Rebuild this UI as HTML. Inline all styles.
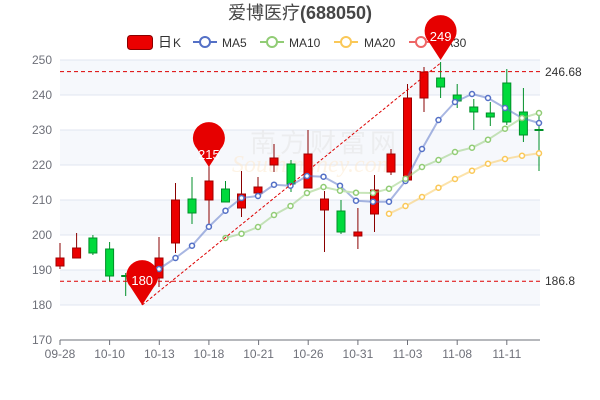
<!DOCTYPE html>
<html><head><meta charset="utf-8"><style>
body{margin:0;background:#fff}
svg{display:block;font-family:"Liberation Sans","Noto Sans CJK SC",sans-serif}
</style></head><body>
<svg width="600" height="400" viewBox="0 0 600 400">
<g fill="#f6f8fc">
<rect x="60" y="60" width="480" height="35"/><rect x="60" y="130" width="480" height="35"/>
<rect x="60" y="200" width="480" height="35"/><rect x="60" y="270" width="480" height="35"/>
</g>
<g stroke="#e0e6f1" stroke-width="1">
<line x1="60" y1="60" x2="540" y2="60"/><line x1="60" y1="95" x2="540" y2="95"/>
<line x1="60" y1="130" x2="540" y2="130"/><line x1="60" y1="165" x2="540" y2="165"/>
<line x1="60" y1="200" x2="540" y2="200"/><line x1="60" y1="235" x2="540" y2="235"/>
<line x1="60" y1="270" x2="540" y2="270"/><line x1="60" y1="305" x2="540" y2="305"/>
</g>
<line x1="60" y1="340" x2="540" y2="340" stroke="#6e7079"/>
<g stroke="#6e7079"><line x1="60" y1="340" x2="60" y2="345"/><line x1="109.6" y1="340" x2="109.6" y2="345"/><line x1="159.3" y1="340" x2="159.3" y2="345"/><line x1="208.9" y1="340" x2="208.9" y2="345"/><line x1="258.6" y1="340" x2="258.6" y2="345"/><line x1="308.2" y1="340" x2="308.2" y2="345"/><line x1="357.9" y1="340" x2="357.9" y2="345"/><line x1="407.5" y1="340" x2="407.5" y2="345"/><line x1="457.2" y1="340" x2="457.2" y2="345"/><line x1="506.8" y1="340" x2="506.8" y2="345"/></g>
<g font-size="12" fill="#6e7079" text-anchor="end">
<text x="52" y="64">250</text><text x="52" y="99">240</text><text x="52" y="134">230</text><text x="52" y="169">220</text>
<text x="52" y="204">210</text><text x="52" y="239">200</text><text x="52" y="274">190</text><text x="52" y="309">180</text><text x="52" y="344">170</text>
</g>
<g font-size="12" fill="#6e7079" text-anchor="middle">
<text x="60" y="358">09-28</text><text x="109.6" y="358">10-10</text><text x="159.3" y="358">10-13</text><text x="208.9" y="358">10-18</text><text x="258.6" y="358">10-21</text><text x="308.2" y="358">10-26</text><text x="357.9" y="358">10-31</text><text x="407.5" y="358">11-03</text><text x="457.2" y="358">11-08</text><text x="506.8" y="358">11-11</text>
</g>
<text x="250" y="152" font-size="26" fill="#e4e4e4" opacity="0.5" letter-spacing="4">南方财富网</text>
<text x="232" y="172" font-size="24" font-style="italic" fill="#fde8cc" opacity="0.5" font-family="Liberation Serif,serif">Southmoney.com</text>
<g stroke-width="1">
<g stroke="#8a0000">
<line x1="60" y1="243" x2="60" y2="269"/><line x1="76.6" y1="233" x2="76.6" y2="258"/><line x1="142.2" y1="275" x2="142.2" y2="305"/><line x1="159" y1="237" x2="159" y2="287"/><line x1="175.5" y1="183" x2="175.5" y2="253"/><line x1="209" y1="163" x2="209" y2="225"/><line x1="241.5" y1="171" x2="241.5" y2="217"/><line x1="258" y1="177" x2="258" y2="199"/><line x1="274" y1="144" x2="274" y2="172"/><line x1="308" y1="130" x2="308" y2="188"/><line x1="324.5" y1="191" x2="324.5" y2="252"/><line x1="357.9" y1="208" x2="357.9" y2="249"/><line x1="374.5" y1="175" x2="374.5" y2="232"/><line x1="391" y1="149" x2="391" y2="175"/><line x1="407.5" y1="84" x2="407.5" y2="180"/><line x1="424" y1="67" x2="424" y2="112"/>
</g>
<g stroke="#008f28">
<line x1="92.9" y1="235" x2="92.9" y2="255"/><line x1="109.6" y1="242" x2="109.6" y2="281"/><line x1="125.7" y1="273" x2="125.7" y2="296"/><line x1="192" y1="177" x2="192" y2="224"/><line x1="225.5" y1="181" x2="225.5" y2="202"/><line x1="291" y1="160" x2="291" y2="192"/><line x1="341" y1="200" x2="341" y2="234"/><line x1="440.6" y1="62" x2="440.6" y2="98"/><line x1="457.2" y1="84" x2="457.2" y2="108"/><line x1="473.8" y1="99" x2="473.8" y2="130"/><line x1="490.3" y1="102" x2="490.3" y2="126"/><line x1="506.8" y1="69" x2="506.8" y2="125"/><line x1="523.4" y1="88" x2="523.4" y2="142"/><line x1="539" y1="114" x2="539" y2="171"/>
</g>
</g>
<g fill="#eb0000" stroke="#a00000" stroke-width="1">
<rect x="56" y="258" width="8" height="8"/><rect x="72.6" y="248" width="8" height="10"/><rect x="138.2" y="280" width="8" height="10"/><rect x="155" y="258" width="8" height="20"/><rect x="171.5" y="200" width="8" height="43"/><rect x="205" y="181" width="8" height="19"/><rect x="237.5" y="194" width="8" height="14"/><rect x="254" y="187" width="8" height="6"/><rect x="270" y="158" width="8" height="7"/><rect x="304" y="154" width="8" height="34"/><rect x="320.5" y="199" width="8" height="11"/><rect x="353.9" y="232" width="8" height="4"/><rect x="370.5" y="190" width="8" height="24"/><rect x="387" y="154" width="8" height="18"/><rect x="403.5" y="98" width="8" height="82"/><rect x="420" y="72" width="8" height="26"/>
</g>
<g fill="#00da3c" stroke="#008f28" stroke-width="1">
<rect x="88.9" y="238" width="8" height="15"/><rect x="105.6" y="249" width="8" height="27"/><rect x="121.7" y="275.5" width="8" height="1"/><rect x="188" y="199" width="8" height="14"/><rect x="221.5" y="189" width="8" height="13"/><rect x="287" y="164" width="8" height="20"/><rect x="337" y="211" width="8" height="21"/><rect x="436.6" y="78" width="8" height="9"/><rect x="453.2" y="95" width="8" height="6"/><rect x="469.8" y="107" width="8" height="5"/><rect x="486.3" y="113" width="8" height="4"/><rect x="502.8" y="83" width="8" height="39"/><rect x="519.4" y="112" width="8" height="23"/><rect x="535" y="129.5" width="8" height="1"/>
</g>
<g fill="none" stroke-width="2" stroke-linejoin="round" opacity="0.5">
<polyline stroke="#5470c6" points="159,269 175.5,258 192,245.7 208.9,226.7 225.5,210.7 241.5,198 258,196 274,184.7 290.5,185.7 307,176 323.5,176.7 340,185.7 356,200.7 373,201.7 389,201.7 405.5,181 422,149 438.5,120 455,102 472,94 488,98 505,108 522,118 539,123"/>
<polyline stroke="#91cc75" points="225.5,238 241.5,233.7 258,227 274,215 290.5,206 307,193 323.5,187 340,190.7 356,192.7 373,193 389,188.7 405.5,178.7 422,167 438.5,160 455,152 472,147.7 488,139.7 505,128.7 522,118 539,113"/>
<polyline stroke="#fac858" points="389,213.7 405.5,206 422,197 438.5,187.7 455,179 472,170.7 488,163.7 505,159 522,155.7 539,153.3"/>
</g>
<g fill="#fff" stroke-width="1.5">
<g stroke="#5470c6"><circle cx="159" cy="269" r="2.5"/><circle cx="175.5" cy="258" r="2.5"/><circle cx="192" cy="245.7" r="2.5"/><circle cx="208.9" cy="226.7" r="2.5"/><circle cx="225.5" cy="210.7" r="2.5"/><circle cx="241.5" cy="198" r="2.5"/><circle cx="258" cy="196" r="2.5"/><circle cx="274" cy="184.7" r="2.5"/><circle cx="290.5" cy="185.7" r="2.5"/><circle cx="307" cy="176" r="2.5"/><circle cx="323.5" cy="176.7" r="2.5"/><circle cx="340" cy="185.7" r="2.5"/><circle cx="356" cy="200.7" r="2.5"/><circle cx="373" cy="201.7" r="2.5"/><circle cx="389" cy="201.7" r="2.5"/><circle cx="405.5" cy="181" r="2.5"/><circle cx="422" cy="149" r="2.5"/><circle cx="438.5" cy="120" r="2.5"/><circle cx="455" cy="102" r="2.5"/><circle cx="472" cy="94" r="2.5"/><circle cx="488" cy="98" r="2.5"/><circle cx="505" cy="108" r="2.5"/><circle cx="522" cy="118" r="2.5"/><circle cx="539" cy="123" r="2.5"/></g>
<g stroke="#91cc75"><circle cx="225.5" cy="238" r="2.5"/><circle cx="241.5" cy="233.7" r="2.5"/><circle cx="258" cy="227" r="2.5"/><circle cx="274" cy="215" r="2.5"/><circle cx="290.5" cy="206" r="2.5"/><circle cx="307" cy="193" r="2.5"/><circle cx="323.5" cy="187" r="2.5"/><circle cx="340" cy="190.7" r="2.5"/><circle cx="356" cy="192.7" r="2.5"/><circle cx="373" cy="193" r="2.5"/><circle cx="389" cy="188.7" r="2.5"/><circle cx="405.5" cy="178.7" r="2.5"/><circle cx="422" cy="167" r="2.5"/><circle cx="438.5" cy="160" r="2.5"/><circle cx="455" cy="152" r="2.5"/><circle cx="472" cy="147.7" r="2.5"/><circle cx="488" cy="139.7" r="2.5"/><circle cx="505" cy="128.7" r="2.5"/><circle cx="522" cy="118" r="2.5"/><circle cx="539" cy="113" r="2.5"/></g>
<g stroke="#fac858"><circle cx="389" cy="213.7" r="2.5"/><circle cx="405.5" cy="206" r="2.5"/><circle cx="422" cy="197" r="2.5"/><circle cx="438.5" cy="187.7" r="2.5"/><circle cx="455" cy="179" r="2.5"/><circle cx="472" cy="170.7" r="2.5"/><circle cx="488" cy="163.7" r="2.5"/><circle cx="505" cy="159" r="2.5"/><circle cx="522" cy="155.7" r="2.5"/><circle cx="539" cy="153.3" r="2.5"/></g>
</g>
<g stroke="#d00" stroke-width="1" stroke-dasharray="4,3" fill="none">
<line x1="60" y1="71.6" x2="540" y2="71.6"/><line x1="60" y1="281.2" x2="540" y2="281.2"/>
<line x1="142.2" y1="305" x2="440.6" y2="63" stroke-dasharray="3,2"/>
</g>
<g font-size="12" fill="#333"><text x="545" y="76">246.68</text><text x="545" y="285">186.8</text></g>
<g fill="#e60000">
<path d="M142.2,305 L130.5,287 A16,16 0 1 1 153.9,287 Z"/>
<path d="M208.9,167 L197.2,149 A16,16 0 1 1 220.6,149 Z"/>
</g>
<g fill="#fff" font-size="13" text-anchor="middle"><text x="142.2" y="285">180</text><text x="208.9" y="159">215</text></g>
<text x="300" y="19" text-anchor="middle" font-size="18" fill="#464646">爱博医疗<tspan font-weight="bold">(688050)</tspan></text>
<rect x="127.5" y="35.5" width="25" height="14" rx="3" fill="#eb0000" stroke="#8a0000"/>
<g font-size="12" fill="#333"><text x="158" y="47" font-size="14">日</text><text x="173" y="47">K</text><text x="222" y="47">MA5</text><text x="289" y="47">MA10</text><text x="364" y="47">MA20</text><text x="435" y="47">MA30</text></g>
<g stroke-width="2" fill="#fff">
<line x1="193" y1="42" x2="217" y2="42" stroke="#5470c6"/><circle cx="205" cy="42" r="5" stroke="#5470c6"/>
<line x1="260" y1="42" x2="284" y2="42" stroke="#91cc75"/><circle cx="272" cy="42" r="5" stroke="#91cc75"/>
<line x1="334" y1="42" x2="358" y2="42" stroke="#fac858"/><circle cx="346" cy="42" r="5" stroke="#fac858"/>
<line x1="409" y1="42" x2="433" y2="42" stroke="#ee6666"/><circle cx="421" cy="42" r="5" stroke="#ee6666"/>
</g>
<path d="M440.6,60 L428.9,42 A16,16 0 1 1 452.3,42 Z" fill="#e60000"/>
<text x="440.6" y="41" fill="#fff" font-size="13" text-anchor="middle">249</text>
</svg>
</body></html>
